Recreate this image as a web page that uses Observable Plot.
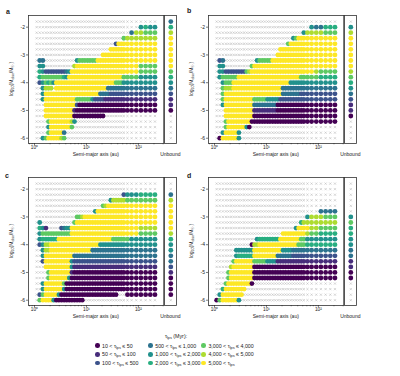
<!DOCTYPE html>
<html><head><meta charset="utf-8">
<script src="https://cdn.jsdelivr.net/npm/d3@7"></script>
<script src="https://cdn.jsdelivr.net/npm/@observablehq/plot@0.6"></script>
<style>
body{margin:0;background:#fff;font-family:"Liberation Sans",Arial,sans-serif;color:#222;}
#fig{position:relative;width:400px;height:376px;overflow:hidden;background:#fff;}
.panel{position:absolute;}
.plabel{position:absolute;font-weight:bold;font-size:7px;line-height:7px;}
.lg-title{position:absolute;left:0;width:352px;top:333px;text-align:center;font-size:5.3px;line-height:6px;}
.lg-item{position:absolute;font-size:5.3px;line-height:6px;white-space:nowrap;}
.lg-dot{position:absolute;width:4.6px;height:4.6px;border-radius:50%;}
.lg-text{position:absolute;left:7px;top:-0.7px;}
sub{font-size:3.8px;vertical-align:-1px;line-height:0;}
</style></head>
<body><div id="fig"></div>
<script>
// ---------- data ----------
// semi-major axis grid (au)
const semiMajorAxes = [1.10,1.26,1.45,1.66,1.86,2.09,2.34,2.63,2.95,3.31,3.72,4.17,4.68,5.25,5.89,6.61,7.41,8.32,9.33,10.5,11.7,13.2,14.8,16.6,18.6,20.9,23.4,26.3,29.5,33.1,37.2,41.7,46.8,52.5,61.7,74.1,91.2,112,138,170,209];
// log10(M_disc / M_sun) rows
const logDiscMass = [-1.8,-2.0,-2.2,-2.4,-2.6,-2.8,-3.0,-3.2,-3.4,-3.6,-3.8,-4.0,-4.2,-4.4,-4.6,-4.8,-5.0,-5.2,-5.4,-5.6,-5.8,-6.0];
// lifetime categories
const categoryCodes = ["1","2","3","4","5","6","7","8","9"];
const categoryLabels = ["10 < τ<sub>lps</sub> ≤ 50","50 < τ<sub>lps</sub> ≤ 100","100 < τ<sub>lps</sub> ≤ 500","500 < τ<sub>lps</sub> ≤ 1,000","1,000 < τ<sub>lps</sub> ≤ 2,000","2,000 < τ<sub>lps</sub> ≤ 3,000","3,000 < τ<sub>lps</sub> ≤ 4,000","4,000 < τ<sub>lps</sub> ≤ 5,000","5,000 < τ<sub>lps</sub>"];
const categoryColors = ["#440154","#472d7b","#3b528b","#2c728e","#21918c","#28ae80","#5ec962","#addc30","#fde725"];
// rows: token = category code followed by repeat count ('.' = no planet, grey cross)
const panelA = [
".41",".37 5 6 5 5",".35 4 8 8 7 7 7",".33 7 87",".30 3 910",".28 913",".25 916",
". 4 4 .12 5 77 918",". 5 5 .11 8 922 74",". 6 5 38 4 5 924 74",". 6 78 6 5 921 74 54",
". 3 5 7 6 7 5 923 73 58",".2 5 83 . 920 414",".2 5 921 44 313",".2 5 912 76 5 34 215",
".3 912 3 125",".3 911 2 126",".3 911 112 .15",".4 7 98 8 5 .26",".4 5 98 7 .27",".4 7 95 4 .30",".2 5 7 95 8 7 .30"];
const unboundA = "46899999976543221.....";
const panelB = [
".41",".35 5 4 4 63",".33 5 84 73",".29 5 7 910",".27 7 913",".24 917",".23 918",
". 3 4 .12 5 75 920",". 5 5 .10 7 927",". 5 5 38 7 8 923 8 74",". 5 76 924 75 64",
".2 5 73 922 513",".2 7 83 919 416",".2 7 922 47 39",".2 7 911 75 55 317",
".2 5 911 49 118",".3 911 29 118",".3 911 127",".3 7 99 128",".3 7 97 5 1 .28",".2 5 95 5 .32",". 1 96 5 .32"];
const unboundB = ".58999999876543221....";
const panelC = [
".41",".41",".33 3 53 64",".28 5 85 77",".25 7 8 914",".22 5 918",".15 72 8 923",
". 5 .12 7 926",". 6 5 2 .5 3 4 52 924 84",". 5 711 924 74",". 5 66 921 76 56",
". 3 5 82 919 517",".2 5 82 916 420",".2 5 911 427",".2 3 910 5 327",
".3 910 5 227",".4 7 98 2 127",".4 7 97 5 128",".2 5 97 7 130",".2 5 97 5 130",". 3 7 95 5 122 .3 17",". 7 94 5 111 .23"];
const unboundC = "..4899999865544321111.";
const panelD = [
".41",".41",".41",".41",".41",".37 44",".34 5 83 73",
".32 6 88",".30 5 94 82 74",".25 99 8 72 64",".15 5 68 98 72 57",
".13 1 82 915 73 67",".7 57 911 54 412",".7 5 66 99 46 312",".6 7 97 75 54 218",
".5 8 98 127",".4 7 99 127",".4 7 99 127",".3 7 99 1 .27",".2 6 98 .30",". 5 98 .31","1 7 96 5 .32"];
const unboundD = "......576655442211....";
// axis ticks
const yTicks = [-2,-3,-4,-5,-6];
const yTickLabels = ["-2","-3","-4","-5","-6"];
const xMajorTicks = [1,10,100];
const xTickLabels = ["10⁰","10¹","10²"];
const xMinorTicks = [0.8,0.9,2,3,4,5,6,7,8,9,20,30,40,50,60,70,80,90,200,300];

// ---------- layout ----------
const W = 180, H = 160, ML = 28, MR = 4, MT = 15, MB = 17;
const xDomain = [0.766, 543];
const yDomain = [-6.19, -1.58];
const DIVIDER_AU = 313, UNBOUND_AU = 422;
const FONT = "'Liberation Sans', Arial, sans-serif";

function expandRow(spec) {
  let s = "";
  for (const tok of spec.trim().split(/\s+/)) {
    const n = tok.length > 1 ? +tok.slice(1) : 1;
    s += tok[0].repeat(n);
  }
  return s;
}
function buildPoints(rows, unbound) {
  const pts = [];
  rows.forEach((spec, i) => {
    const r = expandRow(spec);
    semiMajorAxes.forEach((a, j) => pts.push({a, m: logDiscMass[i], code: r[j] || "."}));
    pts.push({a: UNBOUND_AU, m: logDiscMass[i], code: unbound[i] || "."});
  });
  return pts;
}

function makePanel(rows, unbound) {
  const pts = buildPoints(rows, unbound);
  const crosses = pts.filter(d => d.code === ".");
  const dots = pts.filter(d => d.code !== ".");
  const plot = Plot.plot({
    width: W, height: H, marginLeft: ML, marginRight: MR, marginTop: MT, marginBottom: MB,
    style: {background: "transparent", fontFamily: FONT, fontSize: "5px", overflow: "visible", color: "#222"},
    x: {type: "log", domain: xDomain},
    y: {domain: yDomain},
    color: {type: "ordinal", domain: categoryCodes, range: categoryColors},
    marks: [
      Plot.dot(crosses, {x: "a", y: "m", symbol: "times", r: 1.1, stroke: "#b8b8b8", strokeWidth: 0.55}),
      Plot.dot(dots, {x: "a", y: "m", r: 2.4, fill: "code"}),
      Plot.ruleX([DIVIDER_AU], {stroke: "#000", strokeWidth: 1.2}),
      Plot.frame({stroke: "#333", strokeWidth: 0.8}),
      Plot.axisY({ticks: yTicks, tickSize: 2, tickPadding: 1.5, label: null, fontSize: 5, strokeWidth: 0.6,
        tickFormat: d => yTickLabels[yTicks.indexOf(d)]}),
      Plot.axisX({ticks: xMajorTicks, tickSize: 2, tickPadding: 0, label: null, fontSize: 4.8, strokeWidth: 0.6,
        tickFormat: d => xTickLabels[xMajorTicks.indexOf(d)]}),
      Plot.axisX({ticks: xMinorTicks, tickSize: 1.3, tickFormat: () => "", label: null, strokeWidth: 0.5})
    ]
  });
  const svg = d3.select(plot);
  const xs = d3.scaleLog().domain(xDomain).range([ML, W - MR]);
  svg.append("text").attr("x", (ML + xs(DIVIDER_AU)) / 2).attr("y", 156)
    .attr("text-anchor", "middle").attr("font-size", 5).attr("fill", "#222").text("Semi-major axis (au)");
  svg.append("text").attr("x", xs(UNBOUND_AU)).attr("y", 156)
    .attr("text-anchor", "middle").attr("font-size", 5).attr("fill", "#222").text("Unbound");
  const t = svg.append("text").attr("transform", `translate(13,${(MT + H - MB) / 2}) rotate(-90)`)
    .attr("text-anchor", "middle").attr("font-size", 5).attr("fill", "#222");
  t.append("tspan").text("log");
  t.append("tspan").attr("dy", 1).attr("font-size", 3.6).text("10");
  t.append("tspan").attr("dy", -1).text("(M");
  t.append("tspan").attr("dy", 1).attr("font-size", 3.6).text("disc");
  t.append("tspan").attr("dy", -1).text("/M");
  t.append("tspan").attr("dy", 1).attr("font-size", 3.6).text("☉");
  t.append("tspan").attr("dy", -1).text(")");
  return plot;
}

const fig = document.getElementById("fig");
const panels = [
  {rows: panelA, unbound: unboundA, left: 0, top: 0, label: "a", lx: 6, ly: 8},
  {rows: panelB, unbound: unboundB, left: 180, top: 0, label: "b", lx: 187, ly: 7},
  {rows: panelC, unbound: unboundC, left: 0, top: 162, label: "c", lx: 5, ly: 172},
  {rows: panelD, unbound: unboundD, left: 180, top: 162, label: "d", lx: 187, ly: 172}
];
for (const p of panels) {
  const div = document.createElement("div");
  div.className = "panel";
  div.style.left = p.left + "px";
  div.style.top = p.top + "px";
  div.appendChild(makePanel(p.rows, p.unbound));
  fig.appendChild(div);
  const lab = document.createElement("div");
  lab.className = "plabel";
  lab.style.left = p.lx + "px";
  lab.style.top = p.ly + "px";
  lab.textContent = p.label;
  fig.appendChild(lab);
}

// legend
const title = document.createElement("div");
title.className = "lg-title";
title.innerHTML = "τ<sub>lps</sub> (Myr):";
fig.appendChild(title);
categoryCodes.forEach((c, i) => {
  const col = Math.floor(i / 3), row = i % 3;
  const cx = 97.3 + col * 53.2, cy = 345.7 + row * 8.65;
  const item = document.createElement("div");
  item.className = "lg-item";
  item.style.left = (cx - 2.3) + "px";
  item.style.top = (cy - 2.3) + "px";
  item.innerHTML = `<div class="lg-dot" style="background:${categoryColors[i]}"></div><span class="lg-text">${categoryLabels[i]}</span>`;
  fig.appendChild(item);
});
</script>
</body></html>
